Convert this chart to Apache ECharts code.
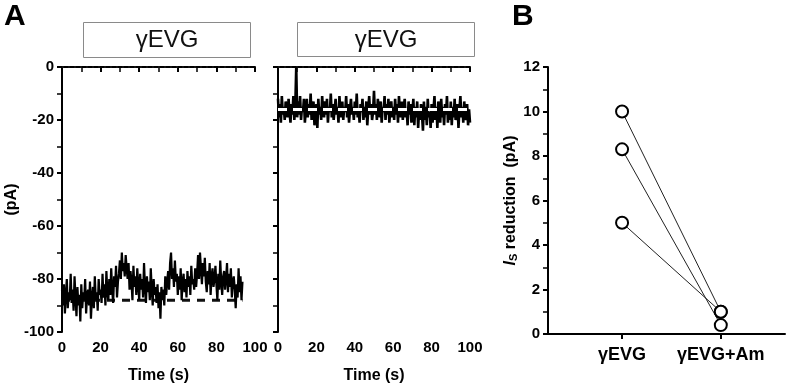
<!DOCTYPE html>
<html>
<head>
<meta charset="utf-8">
<script src="https://cdn.jsdelivr.net/npm/echarts@6/dist/echarts.min.js"></script>
<style>
  html, body { margin: 0; padding: 0; background: #fff; }
  #chart { width: 790px; height: 389px; }
</style>
</head>
<body>
<div id="chart"></div>
<script>
var leftStep = 0.5;
var leftTrace = [
  -84,-90,-82,-93,-86,-80,-91,-85,-88,-78,
  -89,-84,-92,-79,-87,-94,-83,-90,-86,-96,
  -82,-91,-85,-88,-80,-93,-86,-84,-90,-81,
  -95,-87,-83,-91,-79,-88,-85,-92,-80,-86,
  -84,-89,-78,-87,-82,-90,-77,-85,-88,-80,
  -86,-76,-84,-89,-79,-83,-75,-87,-81,-78,
  -73,-80,-70,-77,-74,-79,-71,-76,-80,-74,
  -84,-77,-81,-88,-75,-83,-79,-86,-76,-82,
  -88,-78,-84,-80,-87,-74,-83,-89,-79,-85,
  -81,-88,-76,-84,-90,-80,-86,-83,-89,-82,
  -91,-85,-95,-83,-88,-84,-90,-79,-86,-81,
  -77,-84,-74,-70,-80,-76,-83,-73,-81,-78,
  -86,-79,-84,-76,-88,-81,-78,-85,-80,-87,
  -77,-83,-79,-86,-75,-82,-80,-84,-76,-83,
  -78,-71,-80,-70,-76,-82,-74,-79,-72,-81,
  -85,-77,-82,-74,-86,-79,-76,-83,-80,-75,
  -82,-88,-78,-84,-73,-81,-86,-79,-77,-84,
  -80,-74,-85,-78,-83,-76,-87,-81,-79,-84,
  -91,-82,-87,-76,-85,-79,-88,-81
];
var leftBaseline = -88;
var leftBaselineSpan = [0, 93.5];

// trace A right (γEVG), every 0.5 s
var rightStep = 0.5;
var rightTrace = [
  -12,-19,-14,-21,-11,-18,-15,-20,-13,-17,
  -19,-12,-17,-21,-14,-18,-11,-20,-15,0,
  -19,-13,-18,-11,-20,-15,-17,-12,-21,-16,
  -12,-19,-14,-18,-10,-20,-16,-13,-22,-17,
  -14,-23,-12,-18,-15,-20,-11,-17,-19,-13,
  -18,-12,-21,-15,-17,-10,-19,-14,-20,-16,
  -12,-18,-15,-21,-11,-17,-19,-13,-20,-15,
  -17,-11,-19,-14,-21,-16,-12,-18,-15,-20,
  -13,-18,-10,-19,-16,-21,-14,-17,-12,-20,
  -15,-19,-13,-22,-16,-11,-18,-14,-20,-17,
  -9,-18,-14,-20,-12,-17,-19,-13,-21,-15,
  -17,-11,-20,-14,-18,-12,-21,-16,-13,-19,
  -15,-20,-12,-18,-14,-21,-11,-17,-19,-13,
  -20,-15,-12,-19,-16,-22,-13,-18,-14,-21,
  -17,-12,-22,-15,-19,-13,-23,-16,-20,-14,
  -18,-24,-13,-20,-15,-22,-12,-19,-17,-23,
  -14,-21,-16,-11,-20,-15,-23,-13,-18,-21,
  -12,-19,-15,-22,-14,-18,-11,-21,-16,-20,
  -13,-22,-15,-19,-12,-20,-17,-14,-23,-16,
  -11,-19,-15,-21,-13,-18,-20,-14,-22,-16,
  -21
];
var rightBaseline = -16;
var rightBaselineSpan = [0, 100];

// zero reference (dotted)
var zeroSpan = [0, 98];

// panel B
var groups = ['γEVG', 'γEVG+Am'];
var pairs = [
  [10, 1.0],
  [8.3, 0.4],
  [5, 1.0]
];

function toXY(arr, step) {
  return arr.map(function (v, i) { return [i * step, v]; });
}

var chart = echarts.init(document.getElementById('chart'));

var fontFam = '"Liberation Sans", Arial, sans-serif';
var axisCol = '#000';
var labelStyle = { color: '#000', fontSize: 15, fontWeight: 'bold', fontFamily: fontFam, margin: 8 };

function timeAxis(idx) {
  return {
    type: 'value', gridIndex: idx, min: 0, max: 100, interval: 20,
    name: 'Time (s)', nameLocation: 'middle', nameGap: 36,
    nameTextStyle: { color: '#000', fontSize: 16, fontWeight: 'bold', fontFamily: fontFam },
    axisLine: { lineStyle: { color: axisCol, width: 2 } },
    axisTick: { length: 5, lineStyle: { color: axisCol, width: 2 } },
    minorTick: { show: true, splitNumber: 2, length: 5, lineStyle: { color: axisCol, width: 1.5 } },
    splitLine: { show: false },
    axisLabel: labelStyle
  };
}

function currentAxis(idx, showLabels) {
  return {
    type: 'value', gridIndex: idx, min: -100, max: 0, interval: 20,
    name: showLabels ? '(pA)' : '', nameLocation: 'middle', nameGap: 42,
    nameTextStyle: { color: '#000', fontSize: 16, fontWeight: 'bold', fontFamily: fontFam },
    axisLine: { show: true, onZero: false, lineStyle: { color: axisCol, width: 2 } },
    axisTick: { length: 5, lineStyle: { color: axisCol, width: 2 } },
    minorTick: { show: true, splitNumber: 2, length: 5, lineStyle: { color: axisCol, width: 1.5 } },
    splitLine: { show: false },
    axisLabel: Object.assign({}, labelStyle, { show: showLabels })
  };
}

var series = [
  {
    type: 'line', xAxisIndex: 0, yAxisIndex: 0, symbol: 'none', silent: true, z: 1,
    data: [[leftBaselineSpan[0], leftBaseline], [leftBaselineSpan[1], leftBaseline]],
    lineStyle: { color: '#111', width: 3, type: [8, 7] }
  },
  {
    type: 'line', xAxisIndex: 0, yAxisIndex: 0, symbol: 'none', silent: true, z: 2,
    data: toXY(leftTrace, leftStep),
    lineStyle: { color: '#000', width: 2.2 }
  },
  {
    type: 'line', xAxisIndex: 0, yAxisIndex: 0, symbol: 'none', silent: true, z: 1,
    data: [[zeroSpan[0], 0], [zeroSpan[1], 0]],
    lineStyle: { color: '#111', width: 2, type: [2, 4] }
  },
  {
    type: 'line', xAxisIndex: 1, yAxisIndex: 1, symbol: 'none', silent: true, z: 2,
    data: toXY(rightTrace, rightStep),
    lineStyle: { color: '#000', width: 2.6 }
  },
  {
    type: 'line', xAxisIndex: 1, yAxisIndex: 1, symbol: 'none', silent: true, z: 3,
    data: [[rightBaselineSpan[0], rightBaseline], [rightBaselineSpan[1], rightBaseline]],
    lineStyle: { color: '#fff', width: 3, type: [9, 6] }
  },
  {
    type: 'line', xAxisIndex: 1, yAxisIndex: 1, symbol: 'none', silent: true, z: 1,
    data: [[zeroSpan[0], 0], [zeroSpan[1], 0]],
    lineStyle: { color: '#111', width: 2, type: [2, 4] }
  }
];

// panel B: group i sits at i + 0.75 on the x scale
pairs.forEach(function (p) {
  series.push({
    type: 'line', xAxisIndex: 2, yAxisIndex: 2, silent: true, z: 3,
    data: p.map(function (v, i) { return [i + 0.75, v]; }),
    symbol: 'circle', symbolSize: 12,
    itemStyle: { color: '#fff', borderColor: '#000', borderWidth: 2 },
    lineStyle: { color: '#222', width: 1 }
  });
});

var groupTicks = groups.map(function (g, i) { return i + 0.75; });

chart.setOption({
  animation: false,
  backgroundColor: '#fff',
  grid: [
    { left: 62, width: 193, top: 67, height: 268 },
    { left: 278, width: 192, top: 67, height: 268 },
    { left: 548, width: 237, top: 67, height: 267 }
  ],
  xAxis: [
    timeAxis(0),
    timeAxis(1),
    {
      type: 'value', gridIndex: 2, min: 0, max: 2.4,
      axisLine: { lineStyle: { color: axisCol, width: 2 } },
      axisTick: { length: 5, customValues: groupTicks, lineStyle: { color: axisCol, width: 2 } },
      splitLine: { show: false },
      axisLabel: Object.assign({}, labelStyle, {
        fontSize: 18, margin: 12, customValues: groupTicks,
        formatter: function (v) { return groups[Math.round(v - 0.75)]; }
      })
    }
  ],
  yAxis: [
    currentAxis(0, true),
    currentAxis(1, false),
    {
      type: 'value', gridIndex: 2, min: 0, max: 12, interval: 2,
      name: '{i|I}{s|S} reduction  (pA)', nameLocation: 'middle', nameGap: 28,
      nameTextStyle: {
        color: '#000', fontSize: 16, fontWeight: 'bold', fontFamily: fontFam,
        rich: {
          i: { fontSize: 16, fontStyle: 'italic', fontWeight: 'bold', fontFamily: fontFam, color: '#000' },
          s: { fontSize: 11, fontWeight: 'bold', fontFamily: fontFam, color: '#000', verticalAlign: 'bottom', padding: [6, 0, 0, 0] }
        }
      },
      axisLine: { show: true, lineStyle: { color: axisCol, width: 2 } },
      axisTick: { length: 5, lineStyle: { color: axisCol, width: 2 } },
      minorTick: { show: true, splitNumber: 2, length: 5, lineStyle: { color: axisCol, width: 1.5 } },
      splitLine: { show: false },
      axisLabel: labelStyle
    }
  ],
  graphic: [
    { type: 'text', left: 4, top: 2, style: { text: 'A', fontSize: 30, fontWeight: 'bold', fontFamily: fontFam, fill: '#000' } },
    { type: 'text', left: 512, top: 2, style: { text: 'B', fontSize: 30, fontWeight: 'bold', fontFamily: fontFam, fill: '#000' } },
    { type: 'rect', shape: { x: 83.5, y: 22.5, width: 167, height: 35 }, style: { fill: '#fff', stroke: '#8a8a8a', lineWidth: 1 } },
    { type: 'text', x: 167, y: 40, style: { text: 'γEVG', fontSize: 24, fontFamily: fontFam, fill: '#111', align: 'center', verticalAlign: 'middle' } },
    { type: 'rect', shape: { x: 297.5, y: 22.5, width: 177, height: 34 }, style: { fill: '#fff', stroke: '#8a8a8a', lineWidth: 1 } },
    { type: 'text', x: 386, y: 40, style: { text: 'γEVG', fontSize: 24, fontFamily: fontFam, fill: '#111', align: 'center', verticalAlign: 'middle' } }
  ],
  series: series
});
</script>
</body>
</html>
